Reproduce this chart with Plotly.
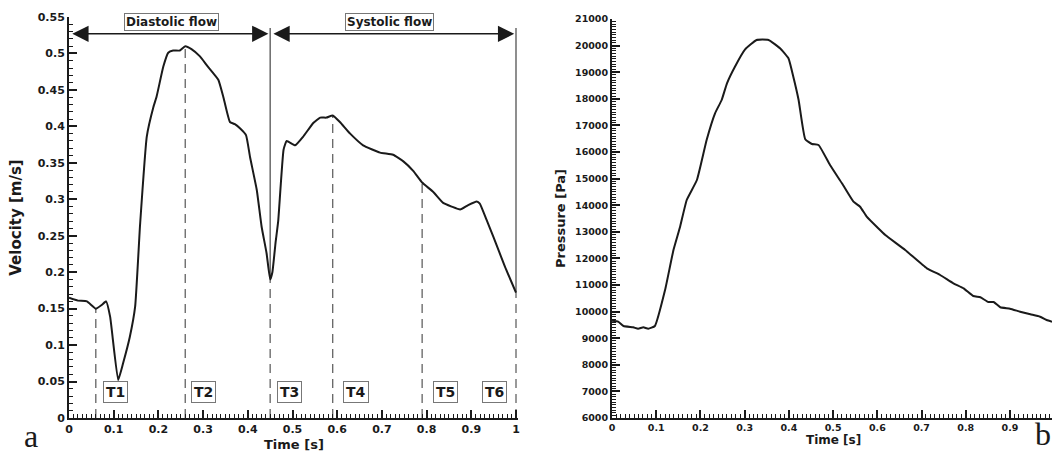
import plotly.graph_objects as go

# ---------------- data ----------------
vel_t = [0.0, 0.02, 0.04, 0.06, 0.073, 0.083, 0.092, 0.110, 0.121, 0.136, 0.148, 0.159,
         0.174, 0.189, 0.196, 0.211, 0.222, 0.233, 0.248, 0.26, 0.274, 0.293, 0.308,
         0.334, 0.345, 0.360, 0.371, 0.383, 0.396, 0.405, 0.420, 0.431, 0.442, 0.45,
         0.455, 0.462, 0.468, 0.480, 0.487, 0.506, 0.524, 0.547, 0.562, 0.576, 0.59,
         0.606, 0.629, 0.658, 0.696, 0.725, 0.748, 0.770, 0.79, 0.815, 0.837, 0.856,
         0.875, 0.893, 0.912, 0.919, 0.934, 0.949, 0.975, 1.0]
vel_v = [0.165, 0.161, 0.160, 0.150, 0.155, 0.160, 0.139, 0.052, 0.075, 0.111, 0.153, 0.265,
         0.386, 0.427, 0.441, 0.482, 0.501, 0.504, 0.504, 0.510, 0.506, 0.496, 0.484,
         0.464, 0.441, 0.406, 0.403, 0.397, 0.388, 0.358, 0.313, 0.262, 0.226, 0.190,
         0.200, 0.240, 0.270, 0.368, 0.380, 0.374, 0.386, 0.405, 0.412, 0.412, 0.415,
         0.406, 0.390, 0.374, 0.364, 0.361, 0.352, 0.339, 0.323, 0.310, 0.295, 0.290,
         0.286, 0.292, 0.297, 0.294, 0.272, 0.249, 0.208, 0.172]

pr_t = [0.0, 0.014, 0.026, 0.048, 0.059, 0.071, 0.082, 0.097, 0.120, 0.139, 0.154, 0.169,
        0.192, 0.214, 0.233, 0.248, 0.260, 0.278, 0.301, 0.327, 0.354, 0.380, 0.399,
        0.410, 0.422, 0.437, 0.452, 0.467, 0.493, 0.520, 0.546, 0.561, 0.576, 0.602,
        0.618, 0.663, 0.712, 0.742, 0.772, 0.795, 0.817, 0.833, 0.851, 0.863, 0.878,
        0.900, 0.923, 0.946, 0.968, 0.983, 0.995]
pr_p = [9658, 9620, 9459, 9410, 9357, 9410, 9357, 9459, 10812, 12316, 13192, 14195,
        14947, 16451, 17455, 17955, 18583, 19207, 19861, 20211, 20211, 19899, 19523,
        18831, 17955, 16477, 16301, 16263, 15511, 14823, 14132, 13944, 13568, 13132,
        12880, 12316, 11628, 11376, 11064, 10876, 10586, 10538, 10361, 10361, 10162,
        10109, 9996, 9898, 9808, 9684, 9620]

phase_t = [0.06, 0.26, 0.45, 0.59, 0.79, 1.0]
phase_labels = ["T1", "T2", "T3", "T4", "T5", "T6"]
phase_label_x = [0.103, 0.30, 0.494, 0.641, 0.843, 0.953]
phase_label_y = 0.036

flow_names = ["Diastolic flow", "Systolic flow"]
flow_start = [0.0, 0.45]
flow_end = [0.45, 1.0]
flow_label_x = [0.23, 0.717]
flow_arrow_y = 0.527
flow_label_y = 0.543
flow_bound_top = 0.535

vel_xticks = [0, 0.1, 0.2, 0.3, 0.4, 0.5, 0.6, 0.7, 0.8, 0.9, 1]
vel_xtext = ["0", "0.1", "0.2", "0.3", "0.4", "0.5", "0.6", "0.7", "0.8", "0.9", "1"]
vel_yticks = [0, 0.05, 0.1, 0.15, 0.2, 0.25, 0.3, 0.35, 0.4, 0.45, 0.5, 0.55]
vel_ytext = ["0", "0.05", "0.1", "0.15", "0.2", "0.25", "0.3", "0.35", "0.4", "0.45", "0.5", "0.55"]
pr_xticks = [0, 0.1, 0.2, 0.3, 0.4, 0.5, 0.6, 0.7, 0.8, 0.9]
pr_xtext = ["0", "0.1", "0.2", "0.3", "0.4", "0.5", "0.6", "0.7", "0.8", "0.9"]
pr_yticks = list(range(6000, 21001, 1000))
pr_ytext = [str(v) for v in pr_yticks]

# ---------------- figure ----------------
INK = "#1a1a1a"
FONT = "DejaVu Sans"
W, H = 1052, 454

def interp(x, xs, ys):
    for i in range(len(xs) - 1):
        if xs[i] <= x <= xs[i + 1]:
            f = (x - xs[i]) / (xs[i + 1] - xs[i]) if xs[i + 1] != xs[i] else 0
            return ys[i] + f * (ys[i + 1] - ys[i])
    return ys[-1]

fig = go.Figure()

# dashed phase markers
for t in phase_t:
    top = interp(t, vel_t, vel_v)
    fig.add_trace(go.Scatter(x=[t, t], y=[0, top], mode="lines",
                             line=dict(color="#555555", width=1.2, dash="9px,6px"),
                             xaxis="x", yaxis="y", showlegend=False, hoverinfo="skip"))

# solid flow-boundary lines
for t in [flow_start[1], flow_end[1]]:
    fig.add_trace(go.Scatter(x=[t, t], y=[interp(t, vel_t, vel_v), flow_bound_top], mode="lines",
                             line=dict(color="#444444", width=1.2),
                             xaxis="x", yaxis="y", showlegend=False, hoverinfo="skip"))

fig.add_trace(go.Scatter(x=vel_t, y=vel_v, mode="lines",
                         line=dict(color=INK, width=2, shape="spline", smoothing=0.4),
                         xaxis="x", yaxis="y", showlegend=False, name="Velocity"))

fig.add_trace(go.Scatter(x=pr_t, y=pr_p, mode="lines",
                         line=dict(color=INK, width=2, shape="spline", smoothing=0.4),
                         xaxis="x2", yaxis="y2", showlegend=False, name="Pressure"))

annotations = []
# flow arrows
for s, e in zip(flow_start, flow_end):
    annotations.append(dict(x=e - 0.004, y=flow_arrow_y, ax=s + 0.004, ay=flow_arrow_y,
                            xref="x", yref="y", axref="x", ayref="y", text="",
                            showarrow=True, arrowhead=2, arrowside="end+start",
                            arrowsize=2.5, arrowwidth=1.3, arrowcolor=INK))
for name, lx in zip(flow_names, flow_label_x):
    annotations.append(dict(x=lx, y=flow_label_y, xref="x", yref="y", text=name,
                            showarrow=False, font=dict(family=FONT, size=12, color=INK, weight="bold"),
                            bordercolor="#777777", borderwidth=1, borderpad=1, bgcolor="white"))
for lab, lx in zip(phase_labels, phase_label_x):
    annotations.append(dict(x=lx, y=phase_label_y, xref="x", yref="y", text=lab,
                            showarrow=False, font=dict(family=FONT, size=14, color=INK, weight="bold"),
                            bordercolor="#777777", borderwidth=1, borderpad=2, bgcolor="white"))
# x-axis titles
annotations.append(dict(x=294 / W, y=1 - 444 / H, xref="paper", yref="paper", text="Time [s]",
                        xanchor="center", yanchor="middle", showarrow=False,
                        font=dict(family=FONT, size=13, color=INK, weight="bold")))
annotations.append(dict(x=833 / W, y=1 - 440 / H, xref="paper", yref="paper", text="Time [s]",
                        xanchor="center", yanchor="middle", showarrow=False,
                        font=dict(family=FONT, size=12, color=INK, weight="bold")))
# panel letters
annotations.append(dict(x=31 / W, y=1 - 436 / H, xref="paper", yref="paper", text="a",
                        xanchor="center", yanchor="middle",
                        showarrow=False, font=dict(family="Liberation Serif", size=32, color=INK)))
annotations.append(dict(x=1043 / W, y=1 - 434 / H, xref="paper", yref="paper", text="b",
                        xanchor="center", yanchor="middle",
                        showarrow=False, font=dict(family="Liberation Serif", size=32, color=INK)))

tickfont_l = dict(family=FONT, size=11, color=INK, weight="bold")
tickfont_r = dict(family=FONT, size=9.5, color=INK, weight="bold")

def ax_common(tickfont):
    return dict(showgrid=False, zeroline=False, showline=True, linecolor=INK, linewidth=2,
                ticks="inside", tickcolor=INK, tickwidth=2, ticklen=8,
                tickfont=tickfont, tickmode="array", automargin=False)

x1_max = 1.004
fig.update_layout(
    width=W, height=H, autosize=False, margin=dict(l=0, r=0, t=0, b=0, pad=0),
    paper_bgcolor="white", plot_bgcolor="white",
    annotations=annotations,
    xaxis=dict(**ax_common(tickfont_l), domain=[69 / W, (69 + 447 * x1_max) / W],
               range=[0, x1_max], tickvals=vel_xticks, ticktext=vel_xtext,
               minor=dict(tickmode="linear", tick0=0, dtick=0.01, ticks="inside",
                          ticklen=4, tickwidth=1, tickcolor=INK),
               anchor="y"),
    yaxis=dict(**ax_common(tickfont_l), domain=[1 - 418 / H, 1 - 17 / H],
               range=[0, 0.55], tickvals=vel_yticks, ticktext=vel_ytext,
               minor=dict(tickmode="linear", tick0=0, dtick=0.01, ticks="inside",
                          ticklen=4, tickwidth=1, tickcolor=INK),
               title=dict(text="Velocity [m/s]", font=dict(family=FONT, size=15, color=INK, weight="bold"),
                          standoff=12),
               anchor="x"),
    xaxis2=dict(**ax_common(tickfont_r), domain=[612 / W, 1.0],
                range=[0, 0.995], tickvals=pr_xticks, ticktext=pr_xtext,
                minor=dict(tickmode="linear", tick0=0, dtick=0.01, ticks="inside",
                           ticklen=4, tickwidth=1, tickcolor=INK),
                anchor="y2"),
    yaxis2=dict(**ax_common(tickfont_r), domain=[1 - 418 / H, 1 - 19 / H],
                range=[6000, 21000], tickvals=pr_yticks, ticktext=pr_ytext,
                minor=dict(tickmode="linear", tick0=0, dtick=100, ticks="inside",
                           ticklen=4, tickwidth=1, tickcolor=INK),
                title=dict(text="Pressure [Pa]", font=dict(family=FONT, size=13, color=INK, weight="bold"),
                           standoff=6),
                anchor="x2"),
)

fig.write_html("out.html", config={"displayModeBar": False},
               post_script="document.body.style.margin='0';document.body.style.overflow='hidden';")
